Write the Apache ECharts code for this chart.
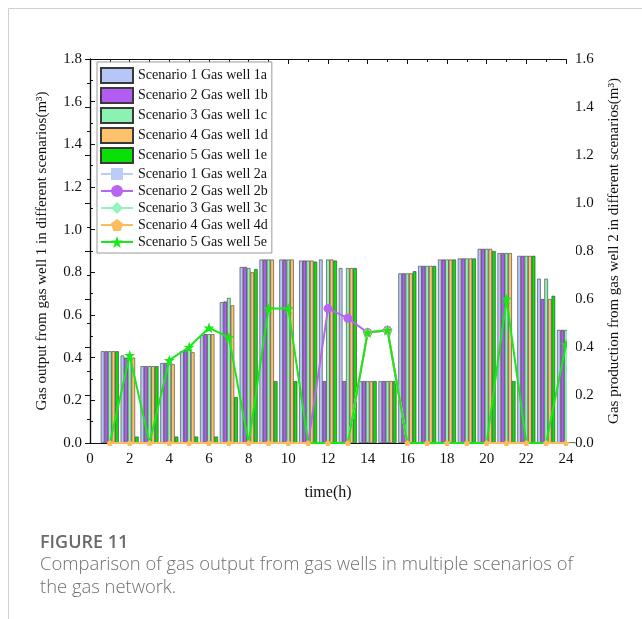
<!DOCTYPE html>
<html>
<head>
<meta charset="utf-8">
<script src="https://cdn.jsdelivr.net/npm/echarts@6/dist/echarts.min.js"></script>
<style>
  html, body { margin: 0; padding: 0; background: #fff; }
  #chart { width: 642px; height: 619px; }
</style>
</head>
<body>
<div id="chart"></div>
<script>
// hours on the x axis
const hours = [1, 2, 3, 4, 5, 6, 7, 8, 9, 10, 11, 12, 13, 14, 15, 16, 17, 18, 19, 20, 21, 22, 23, 24];

// gas well 1 (bars, left axis)
const well1S1 = [0.43, 0.41, 0.36, 0.375, 0.43, 0.505, 0.66, 0.825, 0.86, 0.86, 0.855, 0.86, 0.82, 0.29, 0.29, 0.795, 0.83, 0.86, 0.865, 0.91, 0.89, 0.877, 0.77, 0.53];
const well1S2 = [0.43, 0.40, 0.36, 0.375, 0.435, 0.51, 0.663, 0.825, 0.86, 0.86, 0.855, 0.29, 0.29, 0.29, 0.29, 0.795, 0.83, 0.86, 0.865, 0.91, 0.89, 0.877, 0.675, 0.53];
const well1S3 = [0.43, 0.40, 0.36, 0.37, 0.435, 0.51, 0.68, 0.82, 0.86, 0.86, 0.855, 0.86, 0.82, 0.29, 0.29, 0.795, 0.83, 0.86, 0.865, 0.91, 0.89, 0.877, 0.77, 0.53];
const well1S4 = [0.43, 0.40, 0.36, 0.37, 0.425, 0.51, 0.645, 0.80, 0.86, 0.86, 0.855, 0.86, 0.82, 0.29, 0.29, 0.795, 0.83, 0.86, 0.865, 0.91, 0.89, 0.877, 0.675, 0.53];
const well1S5 = [0.43, 0.03, 0.36, 0.03, 0.03, 0.03, 0.215, 0.815, 0.29, 0.29, 0.85, 0.855, 0.82, 0.29, 0.29, 0.805, 0.83, 0.86, 0.865, 0.90, 0.29, 0.877, 0.69, 0.12];

// gas well 2 (lines, right axis)
const well2S1 = [0, 0, 0, 0, 0, 0, 0, 0, 0, 0, 0, 0, 0, 0.46, 0.47, 0, 0, 0, 0, 0, 0, 0, 0, 0];
const well2S2 = [0, 0, 0, 0, 0, 0, 0, 0, 0, 0, 0, 0.56, 0.52, 0.46, 0.47, 0, 0, 0, 0, 0, 0, 0, 0, 0];
const well2S3 = [0, 0, 0, 0, 0, 0, 0, 0, 0, 0, 0, 0, 0, 0.46, 0.47, 0, 0, 0, 0, 0, 0, 0, 0, 0];
const well2S4 = [0, 0, 0, 0, 0, 0, 0, 0, 0, 0, 0, 0, 0, 0.46, 0.47, 0, 0, 0, 0, 0, 0, 0, 0, 0];
const well2S5 = [0, 0.365, 0, 0.345, 0.40, 0.48, 0.44, 0, 0.56, 0.56, 0, 0, 0, 0.46, 0.47, 0, 0, 0, 0, 0, 0.60, 0, 0, 0.41];

const barNames = ['Scenario 1 Gas well 1a', 'Scenario 2 Gas well 1b', 'Scenario 3 Gas well 1c', 'Scenario 4 Gas well 1d', 'Scenario 5 Gas well 1e'];
const lineNames = ['Scenario 1 Gas well 2a', 'Scenario 2 Gas well 2b', 'Scenario 3 Gas well 3c', 'Scenario 4 Gas well 4d', 'Scenario 5 Gas well 5e'];

const barColors = ['#b6c6f6', '#b35cf2', '#8cf2b2', '#fcc26c', '#08e008'];
const lineColors = ['#bccbf8', '#b866f2', '#94f4bb', '#fcbc5c', '#18e818'];
const symbols = [
  'rect',
  'circle',
  'diamond',
  'path://M0,-10 L9.5,-3.1 L5.9,8.1 L-5.9,8.1 L-9.5,-3.1 Z',
  'path://M0,-10 L2.4,-3.1 L9.5,-3.1 L3.8,1.2 L5.9,8.1 L0,3.9 L-5.9,8.1 L-3.8,1.2 L-9.5,-3.1 L-2.4,-3.1 Z'
];
const symbolSizes = [7, 9, 9, 8, 11];
const zeroSymbolSizes = [0, 0, 0, 6, 0];

const well1 = [well1S1, well1S2, well1S3, well1S4, well1S5];
const well2 = [well2S1, well2S2, well2S3, well2S4, well2S5];

const serif = 'Liberation Serif';

const series = [];
well1.forEach(function (vals, i) {
  series.push({
    name: barNames[i],
    type: 'bar',
    xAxisIndex: 0,
    yAxisIndex: 0,
    barWidth: 3.6,
    barGap: '0%',
    itemStyle: { color: barColors[i], borderColor: '#3a3a3a', borderWidth: 0.6 },
    data: hours.map((h, k) => [h, vals[k]])
  });
});
well2.forEach(function (vals, i) {
  series.push({
    name: lineNames[i],
    type: 'line',
    xAxisIndex: 0,
    yAxisIndex: 1,
    symbol: symbols[i],
    symbolSize: v => (v[1] === 0 ? zeroSymbolSizes[i] : symbolSizes[i]),
    z: 5,
    lineStyle: { color: lineColors[i], width: 2 },
    itemStyle: { color: lineColors[i] },
    data: hours.map((h, k) => [h, vals[k]])
  });
});

const legendData = barNames.map(n => ({ name: n, icon: 'rect' }))
  .concat(lineNames.map(n => ({ name: n })));

const chart = echarts.init(document.getElementById('chart'));
chart.setOption({
  animation: false,
  textStyle: { fontFamily: serif },
  grid: { left: 90, right: 76, top: 59, bottom: 176 },
  legend: {
    orient: 'vertical',
    left: 97,
    top: 62,
    padding: [5, 4, 4, 3],
    itemWidth: 32,
    itemHeight: 15,
    itemGap: 3,
    backgroundColor: '#fff',
    borderColor: '#999',
    borderWidth: 1,
    textStyle: { fontFamily: serif, fontSize: 14, color: '#111' },
    data: legendData
  },
  xAxis: [{
    type: 'value',
    min: 0, max: 24, interval: 2,
    name: 'time(h)',
    nameLocation: 'middle',
    nameGap: 42,
    nameTextStyle: { fontFamily: serif, fontSize: 16, color: '#111' },
    axisLine: { show: true, lineStyle: { color: '#111', width: 1.2 } },
    axisTick: { inside: true, length: 5, lineStyle: { color: '#111' } },
    minorTick: { show: true, splitNumber: 2, length: 3, lineStyle: { color: '#111' } },
    axisLabel: { fontFamily: serif, fontSize: 15, color: '#111', margin: 9 },
    splitLine: { show: false }
  }, {
    type: 'value',
    position: 'top',
    min: 0, max: 24, interval: 2,
    axisLine: { show: true, onZero: false, lineStyle: { color: '#111', width: 1.2 } },
    axisTick: { inside: true, length: 5, lineStyle: { color: '#111' } },
    minorTick: { show: true, splitNumber: 2, length: 3, lineStyle: { color: '#111' } },
    axisLabel: { show: false },
    splitLine: { show: false }
  }],
  yAxis: [{
    type: 'value',
    min: 0, max: 1.8, interval: 0.2,
    name: 'Gas output from gas well 1 in different scenarios(m³)',
    nameLocation: 'middle',
    nameRotate: 90,
    nameGap: 40,
    nameTextStyle: { fontFamily: serif, fontSize: 15, color: '#111' },
    axisLine: { show: true, lineStyle: { color: '#111', width: 1.2 } },
    axisTick: { inside: true, length: 5, lineStyle: { color: '#111' } },
    minorTick: { show: true, splitNumber: 2, length: 3, lineStyle: { color: '#111' } },
    axisLabel: { fontFamily: serif, fontSize: 15, color: '#111', margin: 8, formatter: v => v.toFixed(1) },
    splitLine: { show: false }
  }, {
    type: 'value',
    position: 'right',
    min: 0, max: 1.6, interval: 0.2,
    name: 'Gas production from gas well 2 in different scenarios(m³)',
    nameLocation: 'middle',
    nameRotate: 90,
    nameGap: 41,
    nameTextStyle: { fontFamily: serif, fontSize: 15, color: '#111' },
    axisLine: { show: true, lineStyle: { color: '#111', width: 1.2 } },
    axisTick: { inside: true, length: 5, lineStyle: { color: '#111' } },
    minorTick: { show: true, splitNumber: 2, length: 3, lineStyle: { color: '#111' } },
    axisLabel: { fontFamily: serif, fontSize: 15, color: '#111', margin: 9, formatter: v => v.toFixed(1) },
    splitLine: { show: false }
  }],
  graphic: [
    // hide the half of the last bar group that spills past the right axis
    { type: 'rect', z: 10, shape: { x: 567, y: 50, width: 9, height: 392 }, style: { fill: '#fff' } },
    { type: 'line', shape: { x1: 8.5, y1: 8.5, x2: 642, y2: 8.5 }, style: { stroke: '#d0d0d0', lineWidth: 1 } },
    { type: 'line', shape: { x1: 8.5, y1: 8.5, x2: 8.5, y2: 619 }, style: { stroke: '#d0d0d0', lineWidth: 1 } },
    { type: 'text', left: 40, top: 534, style: { text: 'FIGURE 11', fontFamily: 'Open Sans', fontSize: 18, fontWeight: 600, fill: '#6a6a6a' } },
    { type: 'text', left: 40, top: 556, style: { text: 'Comparison of gas output from gas wells in multiple scenarios of', fontFamily: 'Open Sans', fontSize: 18.4, fontWeight: 300, fill: '#707070' } },
    { type: 'text', left: 40, top: 579, style: { text: 'the gas network.', fontFamily: 'Open Sans', fontSize: 18.4, fontWeight: 300, fill: '#707070' } }
  ],
  series: series
});
</script>
</body>
</html>
